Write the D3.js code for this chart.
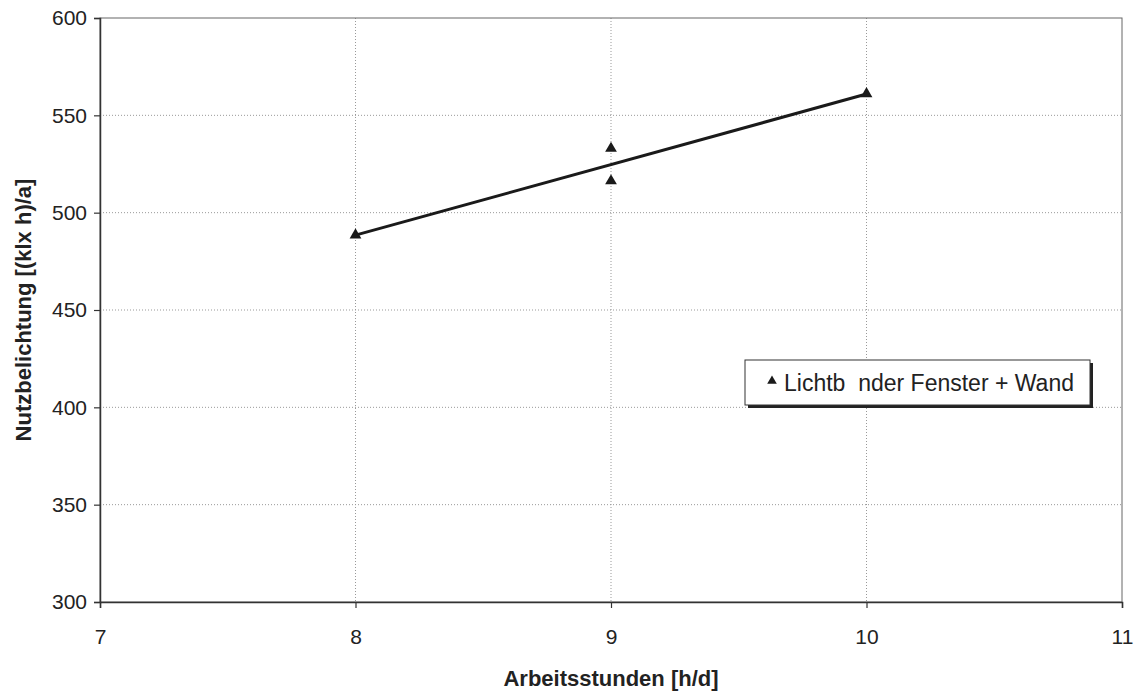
<!DOCTYPE html>
<html>
<head>
<meta charset="utf-8">
<script src="https://cdn.jsdelivr.net/npm/d3@7"></script>
<style>
body { margin: 0; background: #fff; }
svg { display: block; font-family: Arial, "Liberation Sans", sans-serif; }
</style>
</head>
<body>
<svg id="chart" width="1134" height="693"></svg>
<script>
const xTicks = [7, 8, 9, 10, 11];
const yTicks = [300, 350, 400, 450, 500, 550, 600];
const xValues = [8, 9, 9, 10];
const yValues = [488.5, 533, 516.3, 561];
const seriesName = "Lichtb  nder Fenster + Wand";
const xTitle = "Arbeitsstunden [h/d]";
const yTitle = "Nutzbelichtung [(klx h)/a]";

const svg = d3.select("#chart");
const L = 100, R = 1122, T = 18, B = 602;
const x = d3.scaleLinear().domain([7, 11]).range([L, R]);
const y = d3.scaleLinear().domain([300, 600]).range([B, T]);

// grid
const grid = svg.append("g");
grid.selectAll(".vg").data(xTicks.slice(1, -1)).enter().append("line")
  .attr("x1", d => x(d)).attr("x2", d => x(d)).attr("y1", T).attr("y2", B)
  .attr("stroke", "#999").attr("stroke-width", 1).attr("stroke-dasharray", "1,2");
grid.selectAll(".hg").data(yTicks.slice(1, -1)).enter().append("line")
  .attr("y1", d => y(d)).attr("y2", d => y(d)).attr("x1", L).attr("x2", R)
  .attr("stroke", "#999").attr("stroke-width", 1).attr("stroke-dasharray", "1,2");

// frame
svg.append("rect").attr("x", L).attr("y", T).attr("width", R - L).attr("height", B - T)
  .attr("fill", "none").attr("stroke", "#666").attr("stroke-width", 1);

// axes
const xAxis = svg.append("g").attr("transform", `translate(0,${B})`)
  .call(d3.axisBottom(x).tickValues(xTicks).tickSize(6).tickPadding(21).tickFormat(d3.format("d")));
const yAxis = svg.append("g").attr("transform", `translate(${L},0)`)
  .call(d3.axisLeft(y).tickValues(yTicks).tickSize(6).tickPadding(7).tickFormat(d3.format("d")));
[xAxis, yAxis].forEach(a => {
  a.select(".domain").attr("stroke", "#333").attr("stroke-width", 1.5);
  a.selectAll(".tick line").attr("stroke", "#333").attr("stroke-width", 1.2);
  a.selectAll("text").attr("font-size", 21).attr("fill", "#222")
    .attr("font-family", "Arial, 'Liberation Sans', sans-serif");
});

// regression line
const n = xValues.length;
const mx = d3.mean(xValues), my = d3.mean(yValues);
let sxy = 0, sxx = 0;
for (let i = 0; i < n; i++) { sxy += (xValues[i] - mx) * (yValues[i] - my); sxx += (xValues[i] - mx) ** 2; }
const slope = sxy / sxx, icpt = my - slope * mx;
const xMin = d3.min(xValues), xMax = d3.max(xValues);
svg.append("line")
  .attr("x1", x(xMin)).attr("y1", y(icpt + slope * xMin))
  .attr("x2", x(xMax)).attr("y2", y(icpt + slope * xMax))
  .attr("stroke", "#1a1a1a").attr("stroke-width", 3);

// points
const tri = d3.symbol().type(d3.symbolTriangle).size(60);
svg.selectAll(".pt").data(xValues.map((v, i) => [v, yValues[i]])).enter().append("path")
  .attr("d", tri).attr("transform", d => `translate(${x(d[0])},${y(d[1])})`)
  .attr("fill", "#1a1a1a");

// legend
const lg = svg.append("g");
lg.append("rect").attr("x", 748).attr("y", 363).attr("width", 345).attr("height", 45).attr("fill", "#222");
lg.append("rect").attr("x", 745).attr("y", 360).attr("width", 345).attr("height", 45)
  .attr("fill", "#fff").attr("stroke", "#333").attr("stroke-width", 1);
lg.append("path").attr("d", d3.symbol().type(d3.symbolTriangle).size(40))
  .attr("transform", "translate(772,381)").attr("fill", "#1a1a1a");
lg.append("text").attr("x", 784).attr("y", 391).attr("font-size", 23).attr("fill", "#222")
  .attr("xml:space", "preserve").style("white-space", "pre").text(seriesName);

// titles
svg.append("text").attr("x", (L + R) / 2).attr("y", 686).attr("text-anchor", "middle")
  .attr("font-size", 22).attr("font-weight", "bold").attr("fill", "#222").text(xTitle);
svg.append("text").attr("transform", `translate(31,${(T + B) / 2}) rotate(-90)`)
  .attr("text-anchor", "middle").attr("font-size", 22).attr("font-weight", "bold")
  .attr("fill", "#222").text(yTitle);
</script>
</body>
</html>
